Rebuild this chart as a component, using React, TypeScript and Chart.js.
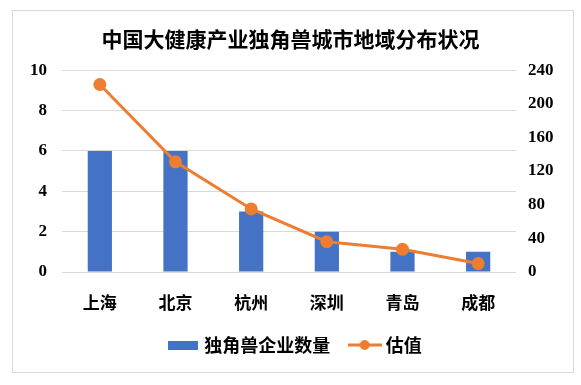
import React, { useEffect, useRef } from "react";
import { Chart, registerables } from "chart.js";

Chart.register(...registerables);

const titleText = "中国大健康产业独角兽城市地域分布状况";
const cities = ["上海", "北京", "杭州", "深圳", "青岛", "成都"];
const unicornCounts = [6, 6, 3, 2, 1, 1];
const valuations = [223, 131, 75, 36, 27, 10];
const seriesNames = ["独角兽企业数量", "估值"];
const leftTicks = [0, 2, 4, 6, 8, 10];
const rightTicks = [0, 40, 80, 120, 160, 200, 240];

const BLUE = "#4472C4";
const ORANGE = "#ED7D31";
const CJK = "'Noto Sans CJK SC', 'Noto Sans', sans-serif";
const SERIF = "'Liberation Serif', 'Times New Roman', serif";

function makeBarIcon() {
  const c = document.createElement("canvas");
  c.width = 30;
  c.height = 9;
  const ctx = c.getContext("2d")!;
  ctx.fillStyle = BLUE;
  ctx.fillRect(0, 0, 30, 9);
  return c;
}

function makeLineIcon() {
  const c = document.createElement("canvas");
  c.width = 34;
  c.height = 12;
  const ctx = c.getContext("2d")!;
  ctx.strokeStyle = ORANGE;
  ctx.lineWidth = 3;
  ctx.beginPath();
  ctx.moveTo(0, 6);
  ctx.lineTo(34, 6);
  ctx.stroke();
  ctx.fillStyle = ORANGE;
  ctx.beginPath();
  ctx.arc(17, 6, 5, 0, Math.PI * 2);
  ctx.fill();
  return c;
}

const shiftLegend = {
  id: "shiftLegend",
  afterLayout(chart: any) {
    if (chart.legend) {
      chart.legend.left += 6;
      chart.legend.right += 6;
    }
  },
};

export default function App() {
  const ref = useRef<HTMLCanvasElement | null>(null);

  useEffect(() => {
    if (!ref.current) return;
    const barIcon = makeBarIcon();
    const lineIcon = makeLineIcon();
    const chart = new Chart(ref.current, {
      type: "bar",
      data: {
        labels: cities,
        datasets: [
          {
            type: "bar",
            label: seriesNames[0],
            data: unicornCounts,
            backgroundColor: BLUE,
            yAxisID: "y",
            categoryPercentage: 0.8,
            barPercentage: 0.4,
            order: 2,
          },
          {
            type: "line",
            label: seriesNames[1],
            data: valuations,
            borderColor: ORANGE,
            backgroundColor: ORANGE,
            borderWidth: 3,
            pointRadius: 5,
            pointBackgroundColor: ORANGE,
            pointBorderColor: ORANGE,
            yAxisID: "y1",
            tension: 0,
            order: 1,
          } as any,
        ],
      },
      plugins: [shiftLegend],
      options: {
        animation: false,
        responsive: false,
        maintainAspectRatio: false,
        layout: { padding: { left: 0, right: 0, top: 0, bottom: 21 } },
        plugins: {
          tooltip: { enabled: false },
          title: {
            display: true,
            text: titleText,
            color: "#000",
            font: { family: CJK, size: 21, weight: "bold" },
            padding: { top: 26, bottom: 19 },
          },
          legend: {
            position: "bottom",
            labels: {
              usePointStyle: true,
              pointStyleWidth: 24,
              color: "#000",
              font: { family: CJK, size: 18, weight: "bold" },
              padding: 10,
              generateLabels: () => [
                {
                  text: seriesNames[0] + "   ",
                  pointStyle: barIcon as any,
                  fillStyle: BLUE,
                  strokeStyle: "transparent",
                  lineWidth: 0,
                  hidden: false,
                  datasetIndex: 0,
                  fontColor: "#000",
                },
                {
                  text: seriesNames[1],
                  pointStyle: lineIcon as any,
                  fillStyle: ORANGE,
                  strokeStyle: "transparent",
                  lineWidth: 0,
                  hidden: false,
                  datasetIndex: 1,
                  fontColor: "#000",
                },
              ],
            },
          },
        },
        scales: {
          x: {
            grid: { display: false, drawTicks: false },
            border: { display: false },
            ticks: {
              color: "#000",
              font: { family: CJK, size: 17, weight: "bold" },
              padding: 20,
              maxRotation: 0,
            },
            afterFit: (s: any) => {
              s.height = 54;
            },
          },
          y: {
            position: "left",
            min: 0,
            max: 10,
            afterBuildTicks: (s: any) => {
              s.ticks = leftTicks.map((v) => ({ value: v }));
            },
            grid: { color: "#d9d9d9", lineWidth: 1, drawTicks: false },
            border: { display: false },
            ticks: {
              color: "#000",
              font: { family: SERIF, size: 17, weight: "bold" },
              padding: 15,
            },
            afterFit: (s: any) => {
              s.width = 62;
            },
          },
          y1: {
            position: "right",
            min: 0,
            max: 240,
            afterBuildTicks: (s: any) => {
              s.ticks = rightTicks.map((v) => ({ value: v }));
            },
            grid: { display: false, drawTicks: false },
            border: { display: false },
            ticks: {
              color: "#000",
              font: { family: SERIF, size: 17, weight: "bold" },
              padding: 12,
            },
            afterFit: (s: any) => {
              s.width = 65;
            },
          },
        },
      },
    });
    return () => chart.destroy();
  }, []);

  return (
    <div
      style={{
        position: "fixed",
        left: 0,
        top: 0,
        width: 581,
        height: 385,
        background: "#fff",
      }}
    >
      <canvas ref={ref} width={581} height={385} style={{ position: "absolute", left: 0, top: 0 }} />
      <div
        style={{
          position: "absolute",
          left: 12,
          top: 10,
          width: 560,
          height: 361,
          border: "1px solid #d9d9d9",
          pointerEvents: "none",
        }}
      />
    </div>
  );
}
